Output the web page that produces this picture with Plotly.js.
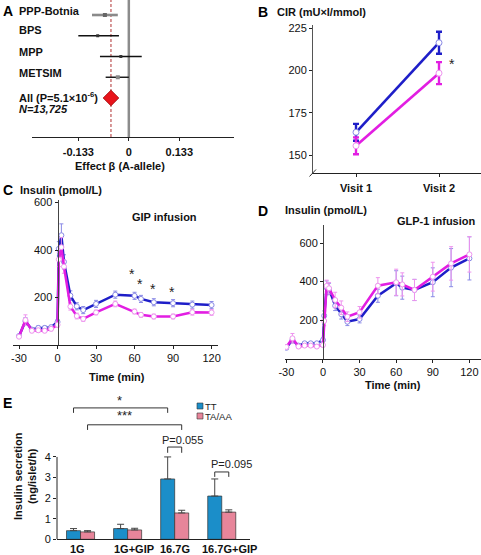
<!DOCTYPE html>
<html><head><meta charset="utf-8">
<script src="https://cdn.plot.ly/plotly-3.0.1.min.js"></script>
<style>html,body{margin:0;padding:0;background:#fff}#chart{width:481px;height:555px}</style>
</head><body><div id="chart"></div>
<script>
// ---------- DATA ----------
// Panel A (forest plot)
const studies = ['PPP-Botnia', 'BPS', 'MPP', 'METSIM', 'All'];
const studyBeta = [-0.063, -0.082, -0.021, -0.029];
const studyLow = [-0.097, -0.133, -0.076, -0.061];
const studyHigh = [-0.029, -0.026, 0.034, 0.000];
const pooledBeta = -0.047;
const forestTickVals = [-0.133, 0, 0.133];
const forestTickText = ['-0.133', '0', '0.133'];
// Panel B (CIR)
const visits = ['Visit 1', 'Visit 2'];
const cirTT = [163.5, 216.5];
const cirTTerr = [5, 6.5];
const cirTA = [155.5, 198.5];
const cirTAerr = [5, 6.5];
const cirTickVals = [150, 175, 200, 225];
// Panels C and D (insulin, pmol/L)
const times = [-30, -25, -20, -15, -10, -5, 0, 1, 3, 5, 10, 15, 20, 30, 45, 60, 65, 75, 90, 105, 120];
const timeTickVals = [-30, 0, 30, 60, 90, 120];
const timeTickText = ['-30', '0', '30', '60', '90', '120'];
const insTickVals = [200, 400, 600];
const gipTT = [38, 100, 65, 72, 72, 75, 97, 405, 462, 350, 208, 163, 147, 173, 212, 207, 194, 180, 176, 170, 168];
const gipTTerr = [6, 15, 8, 8, 8, 8, 10, 30, 48, 30, 20, 15, 15, 15, 15, 15, 15, 15, 15, 15, 15];
const gipTA = [35, 105, 60, 62, 60, 68, 85, 360, 412, 330, 162, 122, 110, 137, 173, 141, 127, 120, 120, 138, 137];
const gipTAerr = [6, 22, 8, 8, 8, 8, 10, 30, 40, 28, 15, 12, 10, 10, 12, 10, 10, 10, 10, 12, 12];
const gipStarTimes = [58, 64, 74, 89];
const gipStarLevels = [300, 256, 235, 225];
const glpTT = [56, 96, 67, 79, 79, 79, 96, 222, 368, 361, 274, 230, 191, 205, 326, 391, 368, 356, 396, 472, 520];
const glpTTerr = [10, 15, 8, 8, 8, 8, 10, 25, 35, 30, 25, 25, 20, 20, 34, 65, 60, 55, 75, 99, 112];
const glpTA = [60, 105, 62, 67, 67, 62, 70, 195, 377, 365, 304, 264, 217, 240, 378, 396, 385, 356, 425, 494, 541];
const glpTAerr = [10, 25, 8, 8, 8, 8, 10, 25, 30, 30, 40, 35, 25, 30, 42, 68, 60, 55, 75, 87, 92];
// Panel E (islet insulin secretion, ng/islet/h)
const conditions = ['1G', '1G+GIP', '16.7G', '16.7G+GIP'];
const secTT = [0.42, 0.52, 2.93, 2.10];
const secTTerr = [0.10, 0.21, 1.07, 0.83];
const secTA = [0.36, 0.455, 1.28, 1.32];
const secTAerr = [0.06, 0.08, 0.13, 0.11];
const secTickVals = [0, 1, 2, 3, 4];
const secTickText = ['0', '1', '2', '3', '4'];

// ---------- STYLE / LAYOUT ----------
const W = 481, H = 555;
const px = v => v / W;
const py = v => 1 - v / H;
const FONT = 'Liberation Sans, Arial, sans-serif';
const BLUE = '#1e1ec8', MAG = '#e21ee2';
const BLUE_L = '#8a8ae6', MAG_L = '#ee94ee';
const TTC = '#1b8ec9', TAC = '#e7859a';
const AX = '#222';

const rowStyle = [
  {line: '#8a8a8a', lw: 2.6, mk: '#666', ms: 4},
  {line: '#111', lw: 1.4, mk: '#333', ms: 3},
  {line: '#111', lw: 1.4, mk: '#333', ms: 3},
  {line: '#111', lw: 1.4, mk: '#888', ms: 4}
];
// small horizontal nudges (category units) for the panel E category labels
const condLabelShift = [-0.07, 0.14, 0.01, 0.16];

const traces = [];
studyBeta.forEach((b, i) => {
  traces.push({
    type: 'scatter', mode: 'markers', x: [b], y: [studies[i]], xaxis: 'x', yaxis: 'y',
    marker: {symbol: 'square', size: rowStyle[i].ms, color: rowStyle[i].mk},
    error_x: {type: 'data', symmetric: false, array: [studyHigh[i] - b], arrayminus: [b - studyLow[i]],
      color: rowStyle[i].line, thickness: rowStyle[i].lw, width: 0},
    showlegend: false, hoverinfo: 'skip'
  });
});
traces.push({
  type: 'scatter', mode: 'markers', x: [pooledBeta], y: ['All'], xaxis: 'x', yaxis: 'y',
  marker: {symbol: 'diamond', size: 12, color: '#e8141b', line: {color: '#9a0000', width: 0.8}},
  showlegend: false
});

function lineTrace(x, y, err, col, colL, xa, ya, lw, ms, eth, ew) {
  return {
    type: 'scatter', mode: 'lines+markers', x: x, y: y, xaxis: xa, yaxis: ya,
    line: {color: col, width: lw},
    marker: {symbol: 'circle', size: ms, color: '#fff', line: {color: colL, width: 1}},
    error_y: {type: 'data', array: err, color: eth > 1.5 ? col : colL, thickness: eth, width: ew},
    showlegend: false
  };
}
traces.push(lineTrace(visits, cirTT, cirTTerr, BLUE, BLUE_L, 'x2', 'y2', 2.6, 6, 2.4, 3));
traces.push(lineTrace(visits, cirTA, cirTAerr, MAG, MAG_L, 'x2', 'y2', 2.6, 6, 2.4, 3));
traces.push(lineTrace(times, gipTT, gipTTerr, BLUE, BLUE_L, 'x3', 'y3', 2.5, 5, 1, 2));
traces.push(lineTrace(times, gipTA, gipTAerr, MAG, MAG_L, 'x3', 'y3', 2.5, 5, 1, 2));
traces.push(lineTrace(times, glpTT, glpTTerr, BLUE, BLUE_L, 'x4', 'y4', 2.5, 5, 1, 2));
traces.push(lineTrace(times, glpTA, glpTAerr, MAG, MAG_L, 'x4', 'y4', 2.5, 5, 1, 2));

traces.push({
  type: 'bar', name: 'TT', x: conditions, y: secTT, xaxis: 'x5', yaxis: 'y5',
  marker: {color: TTC, line: {color: '#333', width: 0.7}},
  error_y: {type: 'data', symmetric: false, array: secTTerr, arrayminus: secTTerr.map(() => 0), color: '#444', thickness: 1, width: 3.5},
  showlegend: false
});
traces.push({
  type: 'bar', name: 'TA/AA', x: conditions, y: secTA, xaxis: 'x5', yaxis: 'y5',
  marker: {color: TAC, line: {color: '#333', width: 0.7}},
  error_y: {type: 'data', symmetric: false, array: secTAerr, arrayminus: secTAerr.map(() => 0), color: '#444', thickness: 1, width: 3.5},
  showlegend: false
});

const baseAx = {showgrid: false, zeroline: false, showline: true, linecolor: AX, linewidth: 1,
  ticks: 'outside', ticklen: 3, tickcolor: AX, tickwidth: 1, fixedrange: true,
  tickfont: {family: FONT, size: 11, color: '#111'}};
const ax = o => Object.assign({}, baseAx, o);

const layout = {
  width: W, height: H, margin: {l: 0, r: 0, t: 0, b: 0, pad: 0},
  paper_bgcolor: '#fff', plot_bgcolor: 'rgba(0,0,0,0)',
  font: {family: FONT, size: 11, color: '#111'},
  showlegend: false, barmode: 'group', bargap: 0.404, bargroupgap: 0,
  xaxis: ax({domain: [px(32), px(234)], range: [-0.255, 0.277], anchor: 'y',
    tickvals: forestTickVals, ticktext: forestTickText, ticklabelstandoff: 2,
    tickfont: {family: FONT, size: 11, color: '#111', weight: 'bold'}}),
  yaxis: {domain: [py(137), 1], type: 'category', categoryarray: studies, range: [5.88, -0.723],
    visible: false, anchor: 'x', fixedrange: true},
  xaxis2: ax({domain: [px(313), 1], type: 'category', range: [-0.518, 1.506], anchor: 'y2',
    tickfont: {family: FONT, size: 11, color: '#111', weight: 'bold'}, ticklabelstandoff: 2}),
  yaxis2: ax({domain: [py(173), py(25)], range: [139.4, 227], anchor: 'x2', tickvals: cirTickVals,
    linecolor: '#555'}),
  xaxis3: ax({domain: [px(13), px(218)], range: [-34.7, 125], anchor: 'y3',
    tickvals: timeTickVals, ticktext: timeTickText}),
  yaxis3: ax({domain: [py(345), py(200)], range: [0, 610.5], anchor: 'free', position: px(57.5),
    tickvals: insTickVals, linecolor: '#444'}),
  xaxis4: ax({domain: [px(285), 1], range: [-31.1, 129.5], anchor: 'y4',
    tickvals: timeTickVals, ticktext: timeTickText}),
  yaxis4: ax({domain: [py(358.5), py(225)], range: [0, 693.5], anchor: 'free', position: px(323),
    tickvals: insTickVals, linecolor: '#444'}),
  xaxis5: ax({domain: [px(57), px(250)], type: 'category', range: [-0.5, 3.6], anchor: 'y5',
    ticks: '', ticklen: 0, showticklabels: false}),
  yaxis5: ax({domain: [py(539.3), py(390)], range: [0, 7.25], anchor: 'x5', showline: false,
    tickvals: secTickVals, ticktext: secTickText}),
  shapes: [], annotations: []
};

const S = layout.shapes, A = layout.annotations;
// Panel A reference lines
S.push({type: 'line', xref: 'x', yref: 'y domain', x0: 0, x1: 0, y0: 0, y1: 1,
  line: {color: '#8c8c8c', width: 2.5}, layer: 'below'});
S.push({type: 'line', xref: 'x', yref: 'y domain', x0: pooledBeta, x1: pooledBeta, y0: 0, y1: 1,
  line: {color: '#b03030', width: 1, dash: '3px,2px'}, layer: 'below'});
// Panel B axis break
S.push({type: 'line', xref: 'paper', yref: 'paper', x0: px(309.5), x1: px(316), y0: py(176.5), y1: py(169.5),
  line: {color: '#333', width: 1}});
// Panel E y axis line (0..4)
S.push({type: 'line', xref: 'x5 domain', yref: 'y5', x0: 0, x1: 0, y0: 0, y1: 4, line: {color: AX, width: 1}});
// Panel E brackets
function bracket(x0, x1, y, yb) {
  const st = {color: '#333', width: 1};
  S.push({type: 'line', xref: 'x5', yref: 'y5', x0: x0, x1: x1, y0: y, y1: y, line: st});
  S.push({type: 'line', xref: 'x5', yref: 'y5', x0: x0, x1: x0, y0: y, y1: yb, line: st});
  S.push({type: 'line', xref: 'x5', yref: 'y5', x0: x1, x1: x1, y0: y, y1: yb, line: st});
}
bracket(-0.149, 1.851, 6.38, 6.14);
bracket(0.149, 2.149, 5.56, 5.31);
bracket(1.851, 2.149, 4.48, 4.20);
bracket(2.851, 3.149, 3.27, 3.03);
// Panel E legend squares
S.push({type: 'rect', xref: 'paper', yref: 'paper', x0: px(197), x1: px(203), y0: py(409), y1: py(403),
  fillcolor: TTC, line: {color: '#333', width: 0.6}});
S.push({type: 'rect', xref: 'paper', yref: 'paper', x0: px(197), x1: px(203), y0: py(419), y1: py(413),
  fillcolor: TAC, line: {color: '#333', width: 0.6}});

function txt(text, x, y, o) {
  A.push(Object.assign({text: text, x: px(x), y: py(y), xref: 'paper', yref: 'paper',
    showarrow: false, xanchor: 'left', yanchor: 'middle',
    font: {family: FONT, size: 11, color: '#111', weight: 'bold'}}, o || {}));
}
const LET = {font: {family: FONT, size: 14, color: '#000', weight: 'bold'}};
txt('A', 1, 11, LET); txt('B', 256, 11.5, LET); txt('C', 1, 189.5, LET); txt('D', 256, 211, LET); txt('E', 1, 402.5, LET);
// Panel A row labels
const labelPx = [11, 29.5, 52, 73];
studies.slice(0, 4).forEach((s, i) => txt(s, 17, labelPx[i]));
txt('All (P=5.1×10<sup>-6</sup>)', 17, 97.5);
txt('<i>N=13,725</i>', 17, 109.5);
txt('Effect β (A-allele)', 120, 166, {xanchor: 'center'});
// Panel B
txt('CIR (mU×l/mmol)', 275, 11.5);
txt('*', 452, 64, {font: {family: FONT, size: 14, color: '#222'}, xanchor: 'center'});
// Panel C
txt('Insulin (pmol/L)', 18, 189.5);
txt('GIP infusion', 130, 217);
txt('Time (min)', 116.5, 377, {xanchor: 'center'});
gipStarTimes.forEach((t, i) => A.push({text: '*', x: t, y: gipStarLevels[i], xref: 'x3', yref: 'y3',
  showarrow: false, xanchor: 'center', yanchor: 'middle', font: {family: FONT, size: 14, color: '#222'}}));
// Panel D
txt('Insulin (pmol/L)', 283, 210);
txt('GLP-1 infusion', 395, 221);
txt('Time (min)', 393, 385, {xanchor: 'center'});
// Panel E
conditions.forEach((c, i) => A.push({text: c, x: i + condLabelShift[i], y: py(548.5), xref: 'x5', yref: 'paper',
  showarrow: false, xanchor: 'center', yanchor: 'middle', font: {family: FONT, size: 11, color: '#111', weight: 'bold'}}));
txt('*', 119, 400, {xanchor: 'center', font: {family: FONT, size: 13, color: '#222'}});
txt('***', 124, 415, {xanchor: 'center', font: {family: FONT, size: 13, color: '#222'}});
txt('P=0.055', 182.5, 440, {xanchor: 'center', font: {family: FONT, size: 11, color: '#222'}});
txt('P=0.095', 231.5, 464, {xanchor: 'center', font: {family: FONT, size: 11, color: '#222'}});
txt('TT', 204, 406, {font: {family: FONT, size: 9.5, color: '#222'}, borderpad: 0});
txt('TA/AA', 204, 416.5, {font: {family: FONT, size: 9.5, color: '#222'}, borderpad: 0});
txt('Insulin secretion<br>(ng/islet/h)', 25, 476, {xanchor: 'center', textangle: -90});

Plotly.newPlot('chart', traces, layout, {staticPlot: true, displayModeBar: false});
</script></body></html>
